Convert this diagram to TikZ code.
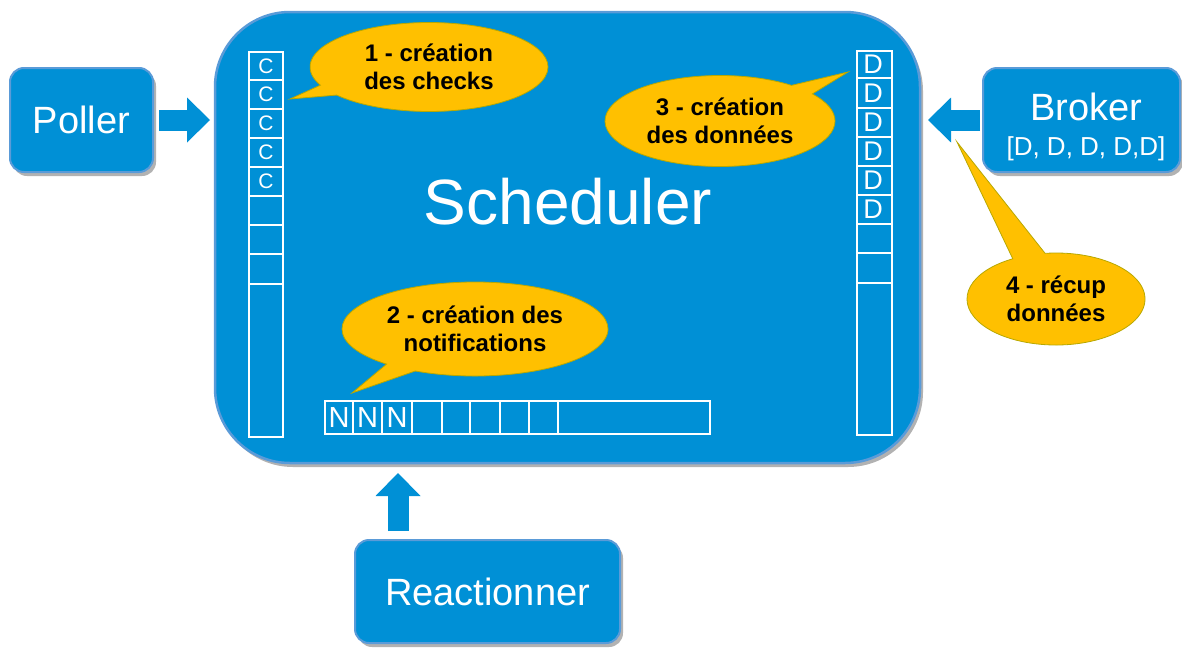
\documentclass[tikz,border=0pt]{standalone}
\usepackage{fontspec}
\setmainfont{Liberation Sans}
\usetikzlibrary{shapes.callouts,shadows,arrows.meta}
\definecolor{boxblue}{HTML}{0090D6}
\definecolor{boxedge}{HTML}{5A9BD8}
\definecolor{callfill}{HTML}{FFC000}
\definecolor{calledge}{HTML}{B8A800}
\tikzset{
  bluebox/.style={draw=boxedge, line width=2pt, fill=boxblue, rounded corners=14pt,
    inner sep=0pt, outer sep=0pt,
    drop shadow={shadow xshift=3pt, shadow yshift=-4pt, opacity=0.3, fill=black}},
  boxtext/.style={text=white, inner sep=0pt, font=\fontsize{38}{40}\selectfont},
  bubble/.style={ellipse callout, fill=callfill, draw=calledge, line width=0.8pt,
    inner sep=0pt, align=center, font=\bfseries\fontsize{24}{28}\selectfont},
  cellline/.style={draw=white, line width=1.4pt},
  celltext/.style={text=white, inner sep=0pt},
  blockarrow/.style={draw=boxblue, line width=21pt,
    -{Triangle[length=23pt, width=45pt, line width=0pt]}},
}
\begin{document}
\begin{tikzpicture}[x=1pt, y=-1pt]
\fill[white] (0,0) rectangle (1182,648);
\useasboundingbox (0,0) rectangle (1182,648);

% Scheduler
\node[bluebox, rounded corners=75pt, line width=2.5pt, minimum width=705pt, minimum height=451pt] (sched) at (567.5,237.5) {};
\node[text=white, inner sep=0pt, anchor=base, font=\fontsize{64}{64}\selectfont] (schedlabel) at (568,224) {Scheduler};

% left column (checks)
\draw[cellline] (249,52) rectangle (283,437);
\foreach \y in {80,109,138,167,196,225,254,284} \draw[cellline] (249,\y) -- (283,\y);
\foreach \i/\y in {1/66,2/94.5,3/123.5,4/152.5,5/181.5}
  \node[celltext, font=\fontsize{21}{21}\selectfont] (c\i) at (266,\y) {C};

% right column (data)
\draw[cellline] (857,51) rectangle (892,435);
\foreach \y in {78,108,137,166,195,224,253,283} \draw[cellline] (857,\y) -- (892,\y);
\foreach \i/\y in {1/64.5,2/93,3/122.5,4/151.5,5/180.5,6/209.5}
  \node[celltext, font=\fontsize{27}{27}\selectfont] (d\i) at (873,\y) {D};

% bottom row (notifications)
\draw[cellline] (325,401) rectangle (710,434);
\foreach \x in {353,382,412,442,470,500,529,558} \draw[cellline] (\x,401) -- (\x,434);
\foreach \i/\x in {1/339,2/367.5,3/397}
  \node[celltext, font=\fontsize{29}{29}\selectfont] (n\i) at (\x,417.5) {N};

% side boxes
\node[bluebox, minimum width=143pt, minimum height=104pt] (poller) at (81.5,120) {};
\node[boxtext] (pollerlabel) at (poller.center) {Poller};
\node[bluebox, minimum width=197pt, minimum height=104pt] (broker) at (1081.5,120) {};
\node[boxtext, anchor=base] (brokerlabel) at (1086,120) {Broker};
\node[text=white, inner sep=0pt, anchor=base, font=\fontsize{26}{26}\selectfont] (brokerlist) at (1086,155) {[D, D, D, D,D]};
\node[bluebox, minimum width=265pt, minimum height=103pt] (reac) at (487.5,591.5) {};
\node[boxtext] (reaclabel) at (reac.center) {Reactionner};

% block arrows
\draw[blockarrow, shorten <=6pt, shorten >=5pt] (poller.east) -- (poller.east -| sched.west);
\draw[blockarrow, shorten <=3pt, shorten >=8pt] (broker.west) -- (broker.west -| sched.east);
\coordinate (rtop) at ([xshift=-89.5pt]reac.north);
\draw[blockarrow, shorten <=9pt, shorten >=10pt] (rtop) -- (rtop |- sched.south);

% callouts
\coordinate (p1) at (290,99);
\coordinate (p2) at (352,393);
\coordinate (p3) at (848,72);
\coordinate (p4) at (957,142);
\node[bubble, minimum width=238pt, minimum height=89pt, callout absolute pointer={(p1)}] (b1) at (429,67) {1 - création\\des checks};
\node[bubble, minimum width=266pt, minimum height=94pt, callout absolute pointer={(p2)}] (b2) at (475,329) {2 - création des\\notifications};
\node[bubble, minimum width=230pt, minimum height=91pt, callout absolute pointer={(p3)}] (b3) at (720,121) {3 - création\\des données};
\node[bubble, minimum width=178pt, minimum height=92pt, callout pointer arc=22, callout absolute pointer={(p4)}] (b4) at (1056,299) {4 - récup\\données};
\end{tikzpicture}
\end{document}
